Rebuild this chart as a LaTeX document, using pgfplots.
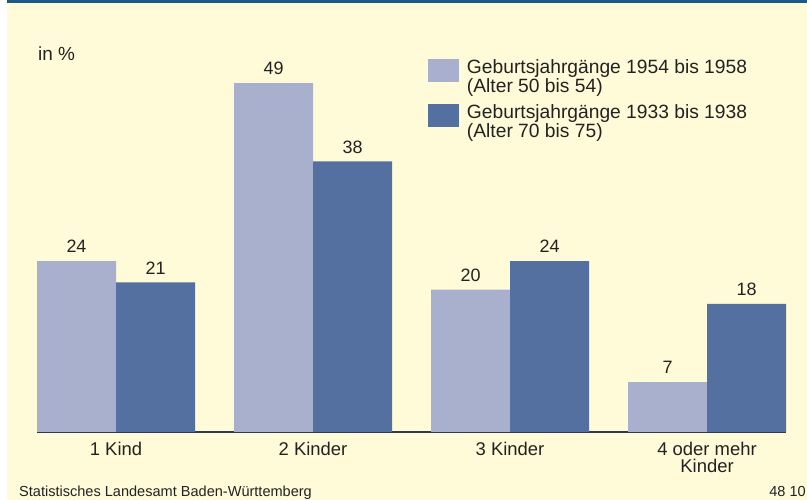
\documentclass[border=0pt]{standalone}
\usepackage{pgfplots}
\pgfplotsset{compat=1.18}
\usepackage{fontspec}
\setmainfont{Liberation Sans}
\definecolor{bg}{HTML}{FFFBD8}
\definecolor{topline}{HTML}{1B5A88}
\definecolor{lightbar}{HTML}{A9B0CD}
\definecolor{darkbar}{HTML}{5470A0}
\definecolor{txt}{HTML}{222222}
\definecolor{baseln}{HTML}{2E3B4E}
\begin{document}
\begin{tikzpicture}[x=1bp,y=1bp]
\fill[white] (0,0) rectangle (807,500);
\fill[bg] (7,0) rectangle (807,500);
\fill[topline] (7,497.2) rectangle (807,500);
\begin{axis}[
  at={(37.2bp,68bp)}, anchor=south west,
  x=197bp, y=7.12bp,
  xmin=-0.4, xmax=3.4, ymin=0, ymax=50,
  axis x line*=bottom, axis y line=none,
  axis line style={baseln, line width=2bp},
  ybar=0pt, bar width=79bp,
  xtick={0,1,2,3},
  xticklabels={1 Kind, 2 Kinder, 3 Kinder, {4 oder mehr\\Kinder}},
  major tick length=0pt,
  xticklabel style={align=center, font=\fontsize{18.5}{17}\selectfont, text=txt, inner sep=0pt, yshift=-10bp},
  nodes near coords={\pgfmathprintnumber[assume math mode=true]{\pgfplotspointmeta}},
  nodes near coords style={font=\fontsize{18}{18}\selectfont, text=txt, anchor=south, inner sep=0pt, yshift=8bp},
  clip=false,
  legend cell align=left,
  legend image code/.code={\fill[#1] (0bp,-5bp) rectangle (31bp,18bp);},
  legend style={at={(0.522,1.048)}, anchor=north west, draw=none, fill=none,
    inner sep=0pt, outer sep=0pt, row sep=10bp, column sep=8bp,
    font=\fontsize{19.3}{17.7}\selectfont, text=txt,
    nodes={inner sep=0pt, align=left}},
]
\addplot[fill=lightbar, draw=none] coordinates {(0,24) (1,49) (2,20) (3,7)};
\addplot[fill=darkbar, draw=none] coordinates {(0,21) (1,38) (2,24) (3,18)};
\legend{{Geburtsjahrgänge 1954 bis 1958\\(Alter 50 bis 54)}, {Geburtsjahrgänge 1933 bis 1938\\(Alter 70 bis 75)}}
\end{axis}
\node[anchor=base west, inner sep=0pt, text=txt, font=\fontsize{19}{19}\selectfont] at (38,439) {in \%};
\node[anchor=base west, inner sep=0pt, text=txt, font=\fontsize{14.6}{15}\selectfont] at (19,3) {Statistisches Landesamt Baden-Württemberg};
\node[anchor=base east, inner sep=0pt, text=txt, font=\fontsize{14.6}{15}\selectfont] at (806,3) {48 10};
\pgfresetboundingbox
\path (0,0) rectangle (807,500);
\end{tikzpicture}
\end{document}
